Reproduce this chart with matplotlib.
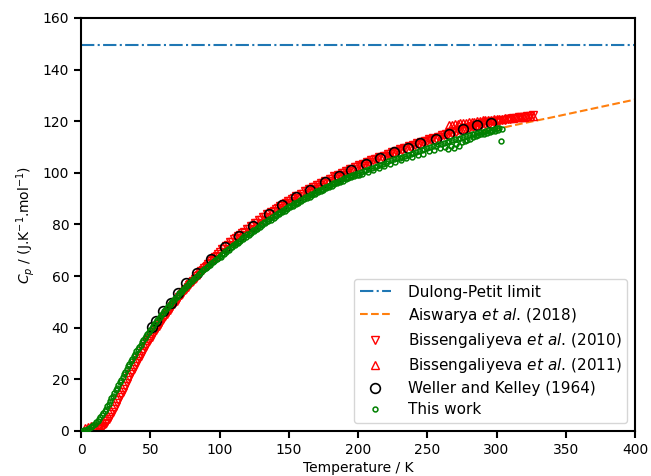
import matplotlib
matplotlib.use("Agg")
import matplotlib.pyplot as plt

# ---------------- data ----------------
dulong_petit = 149.7

aisw_T = [290, 300, 320, 340, 360, 380, 400]
aisw_Cp = [115.9, 117.0, 119.3, 121.5, 123.8, 126.1, 128.4]

# Bissengaliyeva et al. (2010) - down triangles
b10_T_low = [12, 13, 14, 15, 16, 17, 18, 19, 20, 21, 22, 23, 24, 25, 26, 27, 28, 29, 30,
             31, 32, 33, 34, 35, 36, 37, 38, 39, 40, 41, 42, 43, 44, 45, 46, 47, 48, 49,
             50, 51, 52, 53, 54, 55, 56, 57, 58, 59, 60, 61, 62, 63, 64, 65, 66, 67, 68,
             69, 70, 71, 72, 73, 74, 75, 76, 77, 78, 79, 80, 81, 82, 83, 84, 85, 86, 87,
             88, 89, 90, 91, 92, 93, 94, 95, 96, 97, 98, 99]
b10_Cp_low = [0.8, 1.0, 1.2, 1.6, 2.0, 2.6, 3.2, 3.9, 4.7, 5.6, 6.5, 7.5, 8.6, 9.7, 10.8,
              11.9, 13.0, 14.1, 15.3, 16.4, 17.6, 18.7, 19.8, 20.9, 22.0, 23.0, 24.1, 25.1,
              26.2, 27.2, 28.2, 29.2, 30.2, 31.1, 32.1, 33.0, 34.0, 34.9, 35.8, 36.6,
              37.5, 38.3, 39.2, 40.0, 40.8, 41.6, 42.4, 43.2, 44.0, 44.7, 45.5, 46.2,
              47.0, 47.7, 48.4, 49.1, 49.8, 50.5, 51.2, 51.9, 52.6, 53.2, 53.9, 54.5,
              55.2, 55.8, 56.4, 57.0, 57.6, 58.2, 58.8, 59.4, 60.0, 60.6, 61.2, 61.8,
              62.4, 63.0, 63.6, 64.1, 64.7, 65.2, 65.8, 66.3, 66.8, 67.3, 67.8, 68.5]
b10_T_high = [100, 101.5, 103, 104.5, 106, 107.5, 109, 110.5, 112, 113.5, 115, 116.5,
              118, 119.5, 121, 122.5, 124, 125.5, 127, 128.5, 130, 131.5, 133, 134.5,
              136, 137.5, 139, 140.5, 142, 143.5, 145, 146.5, 148, 149.5, 151, 152.5,
              154, 155.5, 157, 158.5, 160, 161.5, 163, 164.5, 166, 167.5, 169, 170.5,
              172, 173.5, 175, 176.5, 178, 179.5, 181, 182.5, 184, 185.5, 187, 188.5,
              190, 191.5, 193, 194.5, 196, 197.5, 199, 200.5, 202, 203.5, 205, 206.5,
              208, 209.5, 211, 212.5, 214, 215.5, 217, 218.5, 220, 221.5, 223, 224.5,
              226, 227.5, 229, 230.5, 232, 233.5, 235, 236.5, 238, 239.5, 241, 242.5,
              244, 245.5, 247, 248.5, 250, 251.5, 253, 254.5, 256, 257.5, 259, 260.5,
              262, 263.5, 265, 266.5, 268, 269.5, 271, 272.5, 274, 275.5, 277, 278.5,
              280, 281.5, 283, 284.5, 286, 287.5, 289, 290.5, 292, 293.5, 295, 296.5,
              298, 300, 302, 304, 306, 308, 310, 312, 314, 316, 318, 320, 322, 324, 326]
b10_Cp_high = [69.3, 70.4, 70.7, 71.8, 72.0, 73.1, 73.3, 74.4, 74.6, 75.7, 75.9, 76.9,
               77.1, 78.1, 78.3, 79.3, 79.5, 80.5, 80.6, 81.7, 81.9, 82.9, 83.0, 84.0,
               84.1, 85.0, 85.1, 86.1, 86.2, 87.1, 87.2, 88.1, 88.2, 89.1, 89.1, 90.0,
               90.1, 91.0, 91.0, 91.9, 91.9, 92.8, 92.8, 93.7, 93.7, 94.5, 94.5, 95.3,
               95.3, 96.2, 96.2, 97.0, 97.0, 97.8, 97.8, 98.6, 98.5, 99.3, 99.3, 100.1,
               100.0, 100.8, 100.7, 101.5, 101.4, 102.2, 102.1, 102.9, 102.8, 103.6,
               103.5, 104.2, 104.1, 104.9, 104.8, 105.5, 105.4, 106.1, 106.0, 106.7,
               106.6, 107.3, 107.2, 107.9, 107.8, 108.5, 108.4, 109.1, 109.0, 109.7,
               109.6, 110.3, 110.2, 110.9, 110.7, 111.4, 111.3, 112.0, 111.8, 112.5,
               112.3, 113.0, 112.8, 113.5, 113.3, 114.0, 113.9, 114.6, 114.5, 115.2,
               115.1, 115.7, 115.5, 116.2, 116.0, 116.7, 116.5, 117.1, 116.9, 117.5,
               117.3, 118.0, 117.8, 118.4, 118.2, 118.8, 118.6, 119.2, 119.0, 119.6,
               119.4, 120.0, 119.8, 120.0, 120.2, 120.4, 120.6, 120.8, 121.0, 121.2,
               121.4, 121.5, 121.7, 121.8, 122.0, 122.1, 122.3]

# Bissengaliyeva et al. (2011) - up triangles
b11_T = [3, 5, 7, 9, 11, 266, 268, 270, 272, 274, 276, 278, 280, 282, 284, 286, 288,
         290, 292, 294, 296, 298, 300, 302, 304, 306, 308, 310, 312, 314, 316, 318, 320,
         322, 324, 326]
b11_Cp = [1.3, 1.6, 1.9, 2.0, 2.1, 118.5, 118.7, 118.9, 119.0, 119.2, 119.3, 119.5,
          119.6, 119.8, 119.9, 120.0, 120.1, 120.3, 120.4, 120.5, 120.6, 120.7, 120.8,
          120.9, 121.0, 121.1, 121.2, 121.3, 121.4, 121.5, 121.6, 121.7, 121.8, 121.9,
          122.0, 122.1]

# Weller and Kelley (1964) - open circles
wk_T = [51, 54, 59, 65, 70, 76, 84, 94, 104, 114, 124, 136, 145, 155, 165, 176, 186,
        195, 206, 216, 226, 236, 245, 256, 266, 276, 286, 296]
wk_Cp = [40.2, 42.8, 46.6, 49.5, 53.4, 57.2, 61.4, 66.6, 71.4, 75.6, 79.6, 84.1, 87.6,
         90.8, 93.4, 96.4, 98.8, 101.2, 103.4, 105.9, 107.9, 109.8, 111.5, 113.2, 115.0,
         116.9, 118.6, 119.5]

# This work - small green circles
tw_T_low = list(range(1, 101))
tw_Cp_low = [0.1, 0.2, 0.35, 0.5, 0.75, 1.0, 1.4, 1.8, 2.3, 2.8, 3.3, 3.9, 4.6, 5.3, 6.1,
             6.9, 7.8, 8.7, 9.6, 10.6, 11.6, 12.6, 13.6, 14.7, 15.7, 16.8, 17.8, 18.9,
             19.9, 21.0, 22.0, 23.0, 24.0, 25.0, 26.0, 27.0, 27.9, 28.9, 29.8, 30.8,
             31.7, 32.6, 33.4, 34.3, 35.1, 36.0, 36.8, 37.6, 38.4, 39.2, 39.9, 40.7,
             41.4, 42.2, 42.9, 43.6, 44.3, 45.0, 45.7, 46.4, 47.0, 47.7, 48.3, 49.0,
             49.6, 50.3, 50.9, 51.5, 52.1, 52.7, 53.3, 53.9, 54.4, 55.0, 55.5, 56.1,
             56.6, 57.2, 57.7, 58.2, 58.7, 59.2, 59.7, 60.2, 60.7, 61.2, 61.7, 62.2,
             62.6, 63.1, 63.5, 64.0, 64.4, 64.9, 65.3, 65.8, 66.2, 66.7, 67.2, 67.8]
tw_T_mid = list(range(101, 200))
tw_Cp_mid = [67.6, 68.7, 68.5, 69.6, 69.4, 70.5, 70.3, 71.4, 71.2, 72.2, 72.0, 73.0,
             72.8, 73.8, 73.6, 74.6, 74.4, 75.4, 75.2, 76.2, 75.9, 76.9, 76.7, 77.7,
             77.4, 78.4, 78.1, 79.1, 78.9, 80.0, 79.8, 80.8, 80.5, 81.5, 81.2, 82.2,
             81.9, 82.9, 82.7, 83.7, 83.4, 84.3, 84.0, 85.0, 84.7, 85.7, 85.4, 86.3,
             86.0, 87.0, 86.7, 87.6, 87.3, 88.2, 87.9, 88.8, 88.5, 89.4, 89.1, 90.0,
             89.7, 90.6, 90.3, 91.1, 90.8, 91.7, 91.4, 92.3, 91.9, 92.8, 92.5, 93.4,
             93.0, 93.9, 93.5, 94.4, 94.0, 94.9, 94.5, 95.4, 95.0, 95.9, 95.5, 96.4,
             96.0, 96.9, 96.5, 97.4, 97.0, 97.9, 97.5, 98.3, 97.9, 98.8, 98.3, 99.2,
             98.8, 99.6, 99.2]
tw_T_high = [200, 201, 202, 203, 204, 206, 207, 208, 210, 211, 212, 214, 215, 216, 218,
             219, 220, 222, 223, 224, 226, 227, 228, 230, 231, 232, 234, 235, 236, 238,
             239, 240, 242, 243, 244, 246, 247, 248, 250, 251, 252, 254, 255, 256, 258,
             259, 260, 262, 263, 264, 265, 266, 267, 268, 269, 270, 271, 272, 273, 274,
             275, 276, 277, 278, 279, 280, 281, 282, 283, 284, 285, 286, 287, 288, 289,
             290, 291, 292, 293, 294, 295, 296, 297, 298, 299, 300, 301, 302, 303, 304]
tw_Cp_high = [100.0, 99.2, 100.3, 99.6, 100.6, 101.1, 100.4, 101.5, 102.0, 101.2, 102.3,
              102.8, 101.9, 103.2, 103.6, 102.7, 104.0, 104.5, 103.4, 104.8, 105.2,
              104.3, 105.6, 105.9, 104.9, 106.3, 106.7, 105.6, 107.0, 107.4, 106.2,
              107.8, 108.2, 106.9, 108.5, 108.8, 107.5, 109.2, 109.5, 108.3, 109.9,
              110.3, 108.9, 110.6, 111.0, 109.5, 111.3, 111.6, 110.0, 112.0, 109.3,
              112.3, 110.5, 112.6, 109.8, 113.0, 111.2, 113.2, 110.6, 113.6, 111.9,
              113.9, 112.4, 114.2, 112.9, 114.6, 113.3, 114.9, 113.8, 115.2, 114.1,
              115.4, 114.6, 115.8, 114.9, 116.0, 115.1, 116.3, 115.6, 116.5, 115.9,
              116.8, 116.1, 117.0, 116.4, 117.2, 116.7, 117.4, 112.5, 117.0]

x_ticks = [0, 50, 100, 150, 200, 250, 300, 350, 400]
y_ticks = [0, 20, 40, 60, 80, 100, 120, 140, 160]

# ---------------- plot ----------------
fig = plt.figure(figsize=(6.51, 4.76), dpi=100)
ax = fig.add_axes([81 / 651, 1 - 431 / 476, (635 - 81) / 651, (431 - 18) / 476])

ax.axhline(dulong_petit, color="#1f77b4", ls="-.", lw=1.5, label="Dulong-Petit limit", zorder=1)
ax.plot(aisw_T, aisw_Cp, color="#ff7f0e", ls="--", lw=1.5,
        label=r"Aiswarya $et\ al$. (2018)", zorder=1)
ax.plot(b10_T_low + b10_T_high, b10_Cp_low + b10_Cp_high, ls="none", marker="v",
        mfc="none", mec="red", ms=6, mew=1.0,
        label=r"Bissengaliyeva $et\ al$. (2010)", zorder=2)
ax.plot(b11_T, b11_Cp, ls="none", marker="^", mfc="none", mec="red", ms=6, mew=1.0,
        label=r"Bissengaliyeva $et\ al$. (2011)", zorder=2)
ax.plot(wk_T, wk_Cp, ls="none", marker="o", mfc="none", mec="black", ms=7, mew=1.2,
        label="Weller and Kelley (1964)", zorder=3)
ax.plot(tw_T_low + tw_T_mid + tw_T_high, tw_Cp_low + tw_Cp_mid + tw_Cp_high,
        ls="none", marker="o", mfc="none", mec="green", ms=3.5, mew=1.1,
        label="This work", zorder=4)

ax.set_xlim(0, 400)
ax.set_ylim(0, 160)
ax.set_xticks(x_ticks)
ax.set_yticks(y_ticks)
for s in ax.spines.values():
    s.set_linewidth(1.5)
ax.tick_params(width=1.5, length=5, labelsize=10)
ax.set_xlabel("Temperature / K", fontsize=10, labelpad=3)
ax.set_ylabel(r"$C_p$ / (J.K$^{-1}$.mol$^{-1}$)", fontsize=10)
ax.legend(loc="lower right", fontsize=11, labelspacing=0.4, handletextpad=1.1)

fig.savefig("out.png", dpi=100)
